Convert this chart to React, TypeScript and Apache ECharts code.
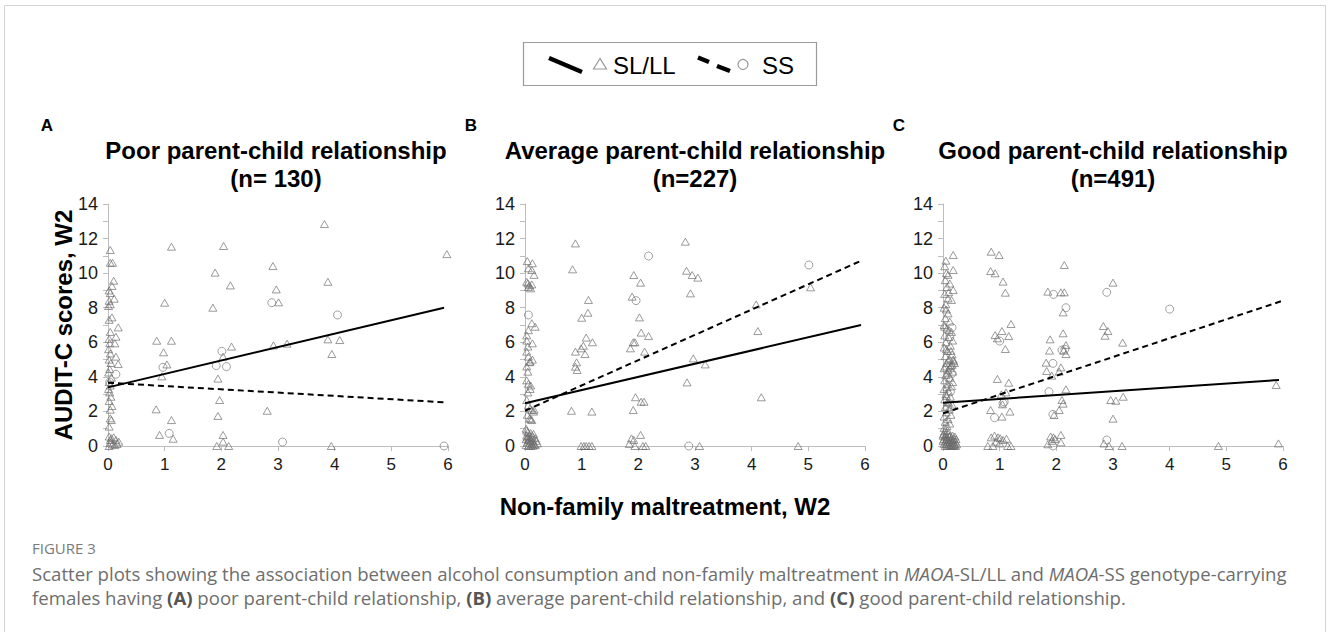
import React, { useEffect, useRef } from "react";
import * as echarts from "echarts";

// ---------- data ----------
const panelLetters = ["A", "B", "C"];
const panelTitles = [
  "Poor parent-child relationship",
  "Average parent-child relationship",
  "Good parent-child relationship",
];
const panelCounts = ["(n= 130)", "(n=227)", "(n=491)"];
const xTicks = [0, 1, 2, 3, 4, 5, 6];
const yTicks = [0, 2, 4, 6, 8, 10, 12, 14];

// Panel A
const slllA: number[][] = [
  [1.12, 11.53], [2.04, 11.57], [3.82, 12.84], [5.98, 11.1], [1.89, 10.03], [2.91, 10.41], [2.16, 9.29],
  [2.97, 9.06], [3.88, 9.5], [1.0, 8.29], [3.01, 8.31], [1.85, 8.0], [0.86, 6.09], [1.12, 6.09], [0.98, 5.42],
  [1.04, 4.72], [0.95, 4.03], [2.18, 5.75], [2.92, 5.82], [3.16, 5.92], [3.88, 6.17], [4.09, 6.13], [3.95, 5.32],
  [2.03, 5.17], [1.94, 3.9], [1.97, 2.66], [1.94, 1.74], [0.85, 2.12], [2.81, 2.04], [1.12, 1.5], [0.91, 0.64],
  [1.15, 0.42], [2.03, 0.64], [2.03, 0.25], [1.92, 0.0], [2.13, 0], [3.94, 0],
  [0.04, 11.34], [0.04, 10.6], [0.08, 10.6], [0.1, 9.56], [0.07, 9.26], [0.02, 9.0], [0.11, 8.52], [0.04, 8.85],
  [0.02, 8.4], [0.04, 8.2], [0.01, 8.1], [0.07, 7.44], [0.02, 7.3], [0.18, 6.86], [0.14, 6.32], [0.04, 6.6],
  [0.02, 6.2], [0.03, 5.95], [0.12, 5.94], [0.01, 5.6], [0.04, 5.35], [0.14, 5.17], [0.18, 4.74], [0.02, 5.0],
  [0.05, 4.8], [0.03, 4.45], [0.01, 4.25], [0.06, 3.95], [0.02, 3.7], [0.04, 3.5], [0.01, 3.3], [0.03, 3.1],
  [0.05, 2.85], [0.02, 2.6], [0.07, 2.31], [0.04, 2.1], [0.04, 1.6], [0.06, 1.5], [0.02, 1.12], [0.02, 0.55],
  [0.06, 0.45], [0.1, 0.5], [0.14, 0.35], [0.19, 0.25], [0.04, 0.2], [0.08, 0.1], [0.02, 0.0], [0.12, 0.05],
  [0.16, 0.12], [0.04, 0.35],
];
const ssA: number[][] = [
  [2.89, 8.29], [4.05, 7.58], [2.01, 5.48], [0.97, 4.55], [1.91, 4.65], [2.09, 4.59], [1.08, 0.73], [3.08, 0.23],
  [5.93, 0], [0.14, 4.15], [0.03, 3.7],
];
const fitSlllA = [[0, 3.39], [5.93, 8.0]];
const fitSsA = [[0, 3.66], [5.93, 2.53]];

// Panel B
const slllB: number[][] = [
  [0.89, 11.72], [0.84, 10.22], [2.83, 11.82], [2.85, 10.14], [2.95, 9.89], [3.05, 9.74], [2.92, 8.83], [1.92, 9.89],
  [2.04, 9.45], [1.89, 8.64], [1.12, 8.45], [1.11, 7.71], [1.0, 7.42], [2.02, 7.44], [2.05, 6.56], [2.18, 6.36],
  [1.08, 6.27], [1.19, 6.0], [1.03, 5.8], [0.99, 5.65], [1.06, 5.32], [0.89, 5.46], [0.91, 4.84], [0.89, 4.59],
  [0.92, 4.4], [1.91, 6.0], [1.94, 6.0], [1.86, 5.65], [2.11, 5.46], [4.08, 8.19], [4.11, 6.65], [5.04, 9.18],
  [2.97, 5.07], [3.18, 4.72], [2.86, 3.68], [4.17, 2.82], [1.95, 2.82], [2.05, 2.56], [2.1, 2.56], [1.91, 2.08],
  [0.82, 2.04], [1.18, 1.99], [2.04, 0.64], [1.88, 0.44], [1.92, 0.35], [1.84, 0.12], [1.94, 0.0], [0.99, 0],
  [1.04, 0], [1.08, 0], [1.13, 0], [1.18, 0], [2.08, 0], [2.13, 0], [3.08, 0], [4.82, 0],
  [0.04, 10.7], [0.13, 10.57], [0.06, 10.28], [0.12, 10.18], [0.16, 9.9], [0.05, 9.41], [0.08, 9.3], [0.1, 9.12],
  [0.06, 9.2], [0.03, 9.5], [0.12, 9.35], [0.12, 7.1], [0.18, 6.9], [0.06, 6.7], [0.03, 6.4], [0.03, 6.1],
  [0.13, 5.94], [0.05, 5.75], [0.03, 5.46], [0.06, 5.17], [0.09, 4.88], [0.13, 5.0], [0.03, 4.6], [0.05, 4.3],
  [0.08, 4.85], [0.03, 3.8], [0.06, 3.6], [0.1, 3.5], [0.09, 3.3], [0.05, 3.1], [0.03, 2.66], [0.06, 2.37],
  [0.09, 2.18], [0.12, 2.08], [0.15, 1.99], [0.16, 2.1], [0.04, 1.8], [0.08, 1.6], [0.12, 1.5], [0.1, 1.55],
  [0.02, 1.0], [0.05, 0.8], [0.1, 0.75], [0.15, 0.7], [0.03, 0.6], [0.07, 0.55], [0.12, 0.5], [0.18, 0.45],
  [0.02, 0.4], [0.06, 0.35], [0.1, 0.3], [0.14, 0.25], [0.2, 0.3], [0.04, 0.2], [0.08, 0.15], [0.12, 0.1],
  [0.16, 0.1], [0.02, 0.05], [0.06, 0.0], [0.1, 0.0], [0.14, 0.02], [0.18, 0.05], [0.22, 0.15], [0.04, 0.5],
  [0.09, 0.45], [0.13, 0.6], [0.03, 0.9],
];
const ssB: number[][] = [[2.18, 10.99], [5.01, 10.47], [1.96, 8.41], [2.89, 0], [0.06, 7.58]];
const fitSlllB = [[0, 2.47], [5.93, 7.0]];
const fitSsB = [[0, 2.04], [5.96, 10.76]];

// Panel C
const slllC: number[][] = [
  [0.85, 11.24], [0.99, 11.05], [0.84, 10.12], [0.92, 9.99], [1.06, 9.51], [1.1, 8.87], [2.14, 10.47], [3.0, 9.45],
  [1.85, 8.93], [2.08, 8.89], [2.14, 8.89], [2.12, 7.73], [1.2, 7.06], [1.04, 6.65], [1.16, 6.36], [0.92, 6.42],
  [0.96, 6.23], [1.1, 5.61], [2.83, 6.94], [2.91, 6.65], [2.86, 6.38], [3.17, 5.98], [1.89, 6.17], [2.12, 6.52],
  [2.17, 5.84], [2.13, 5.52], [2.17, 5.32], [1.88, 5.52], [1.82, 4.82], [1.83, 4.34], [1.92, 4.07], [2.08, 4.55],
  [2.05, 4.3], [0.96, 3.88], [1.16, 3.66], [1.11, 3.1], [1.03, 2.99], [1.05, 2.41], [0.84, 2.08], [1.18, 1.99],
  [1.04, 1.7], [2.17, 3.28], [2.1, 2.66], [2.05, 2.08], [2.12, 2.45], [1.96, 1.79], [3.18, 2.85], [2.96, 2.66],
  [3.05, 2.62], [3.0, 1.58], [5.88, 3.53], [5.92, 0.15], [4.86, 0], [3.16, 0], [2.84, 0.15], [2.93, 0],
  [2.08, 0.64], [2.08, 0.21], [1.95, 0.5], [1.98, 0.4], [1.92, 0.3], [0.85, 0.5], [0.91, 0.6], [0.97, 0.5],
  [1.01, 0.45], [1.06, 0.35], [1.12, 0.42], [0.94, 0.25], [1.0, 0.15], [0.88, 0], [0.79, 0], [1.2, 0], [1.14, 0],
  [1.85, 0.1], [1.9, 0.55],
  [0.18, 11.05], [0.05, 10.72], [0.03, 10.4], [0.18, 10.18], [0.06, 10.0], [0.09, 9.9], [0.04, 9.6], [0.12, 9.4],
  [0.07, 9.2], [0.18, 9.02], [0.03, 8.8], [0.09, 8.54], [0.15, 8.45], [0.05, 8.2], [0.02, 8.0], [0.09, 7.67],
  [0.04, 7.4], [0.12, 7.2], [0.02, 7.0], [0.07, 6.8], [0.15, 6.6], [0.03, 6.4], [0.1, 6.3], [0.17, 6.1],
  [0.05, 6.0], [0.13, 5.8], [0.02, 5.7], [0.08, 5.5], [0.16, 5.3], [0.04, 5.2], [0.11, 5.05], [0.19, 4.9],
  [0.06, 4.8], [0.14, 4.65], [0.02, 4.5], [0.09, 4.4], [0.17, 4.3], [0.05, 4.1], [0.12, 3.95], [0.03, 3.8],
  [0.08, 3.6], [0.15, 3.45], [0.02, 3.3], [0.1, 3.15], [0.05, 3.0], [0.13, 2.85], [0.03, 2.7], [0.08, 2.55],
  [0.16, 2.4], [0.04, 2.25], [0.11, 2.1], [0.06, 1.95], [0.14, 1.8], [0.02, 1.7], [0.09, 1.55], [0.04, 1.4],
  [0.12, 1.3], [0.07, 1.15], [0.02, 1.05], [0.06, 5.6], [0.1, 4.95], [0.04, 4.6], [0.08, 4.2], [0.14, 5.5],
  [0.11, 6.7], [0.06, 7.9], [0.1, 8.9], [0.03, 6.9], [0.07, 3.4], [0.1, 2.5], [0.06, 2.9], [0.12, 4.5],
  [0.16, 4.7], [0.18, 5.0], [0.2, 4.8], [0.17, 3.7],
  [0.01, 0.7], [0.05, 0.65], [0.09, 0.7], [0.13, 0.62], [0.17, 0.6], [0.21, 0.55], [0.03, 0.55], [0.07, 0.5],
  [0.11, 0.52], [0.15, 0.45], [0.19, 0.42], [0.23, 0.4], [0.02, 0.4], [0.06, 0.38], [0.1, 0.35], [0.14, 0.32],
  [0.18, 0.3], [0.22, 0.25], [0.04, 0.25], [0.08, 0.22], [0.12, 0.2], [0.16, 0.18], [0.2, 0.12], [0.24, 0.1],
  [0.02, 0.12], [0.06, 0.1], [0.1, 0.08], [0.14, 0.05], [0.18, 0.02], [0.22, 0.0], [0.04, 0.0], [0.08, 0.0],
  [0.12, 0.0], [0.16, 0.0], [0.2, 0.05], [0.0, 0.3], [0.0, 0.6], [0.03, 0.85], [0.08, 0.9],
];
const ssC: number[][] = [
  [1.95, 8.77], [2.17, 8.0], [2.89, 8.89], [4.0, 7.92], [1.0, 6.07], [2.1, 5.55], [1.94, 4.78], [1.87, 3.14],
  [1.06, 2.47], [0.91, 1.64], [1.94, 1.83], [2.89, 0.35], [1.94, 0], [0.16, 6.85], [0.12, 6.3], [0.14, 4.7],
  [0.1, 3.9], [0.13, 3.14], [0.16, 4.2], [0.08, 2.2], [1.08, 2.55], [2.15, 5.6],
];
const fitSlllC = [[0, 2.5], [5.93, 3.82]];
const fitSsC = [[0, 1.89], [5.98, 8.39]];

const slllData = [slllA, slllB, slllC];
const ssData = [ssA, ssB, ssC];
const fitSlll = [fitSlllA, fitSlllB, fitSlllC];
const fitSs = [fitSsA, fitSsB, fitSsC];

// ---------- layout ----------
const gridLefts = [108, 525, 943];
const GRID_W = 340;
const GRID_TOP = 204;
const GRID_H = 242;
const FONT = '"Liberation Sans", Arial, Helvetica, sans-serif';
const CAP_FONT = '"Open Sans", "Noto Sans", sans-serif';
const AXIS_GRAY = "#bdbdbd";
const CAP_SIZE = 18.6;

export default function App() {
  const ref = useRef<HTMLDivElement>(null);
  useEffect(() => {
    if (!ref.current) return;
    const chart = echarts.init(ref.current, undefined, { renderer: "svg" });

    const grids = gridLefts.map((l) => ({ left: l, top: GRID_TOP, width: GRID_W, height: GRID_H }));
    const xAxes = gridLefts.map((_, i) => ({
      type: "value",
      gridIndex: i,
      min: xTicks[0],
      max: xTicks[xTicks.length - 1],
      interval: 1,
      axisLine: { show: true, lineStyle: { color: AXIS_GRAY, width: 1 } },
      axisTick: { show: true, length: 5, lineStyle: { color: AXIS_GRAY } },
      axisLabel: { color: "#1a1a1a", fontSize: 17, fontFamily: FONT, margin: 10 },
      splitLine: { show: false },
    }));
    const yAxes = gridLefts.map((_, i) => ({
      type: "value",
      gridIndex: i,
      min: yTicks[0],
      max: yTicks[yTicks.length - 1],
      interval: 2,
      axisLine: { show: true, lineStyle: { color: AXIS_GRAY, width: 1 } },
      axisTick: { show: true, length: 5, lineStyle: { color: AXIS_GRAY } },
      minorTick: { show: true, splitNumber: 2, length: 5, lineStyle: { color: AXIS_GRAY } },
      axisLabel: { color: "#1a1a1a", fontSize: 18, fontFamily: FONT, margin: 10 },
      splitLine: { show: false },
      minorSplitLine: { show: false },
    }));

    const series: any[] = [];
    for (let i = 0; i < 3; i++) {
      series.push({
        type: "scatter",
        name: "SL/LL",
        xAxisIndex: i,
        yAxisIndex: i,
        data: slllData[i],
        symbol: "triangle",
        symbolSize: [8, 7],
        clip: false,
        itemStyle: { color: "rgba(0,0,0,0)", borderColor: "#6a6a6a", borderWidth: 0.85 },
        silent: true,
        z: 2,
      });
      series.push({
        type: "scatter",
        name: "SS",
        xAxisIndex: i,
        yAxisIndex: i,
        data: ssData[i],
        symbol: "circle",
        symbolSize: 8,
        clip: false,
        itemStyle: { color: "rgba(0,0,0,0)", borderColor: "#7c7c7c", borderWidth: 0.9 },
        silent: true,
        z: 2,
      });
      series.push({
        type: "line",
        xAxisIndex: i,
        yAxisIndex: i,
        data: fitSlll[i],
        symbol: "none",
        lineStyle: { color: "#000", width: 2 },
        silent: true,
        z: 5,
      });
      series.push({
        type: "line",
        xAxisIndex: i,
        yAxisIndex: i,
        data: fitSs[i],
        symbol: "none",
        lineStyle: { color: "#000", width: 2, type: [6, 4] },
        silent: true,
        z: 5,
      });
    }

    const txt = (x: number, y: number, text: string, font: string, align = "center", extra: any = {}) => ({
      type: "text",
      x,
      y,
      silent: true,
      ...extra,
      style: {
        text,
        font,
        fill: "#000",
        textAlign: align,
        align,
        textVerticalAlign: "middle",
        verticalAlign: "middle",
        ...(extra.style || {}),
      },
    });

    const capStyle = {
      fontSize: CAP_SIZE,
      fontFamily: CAP_FONT,
      fill: "#6e6e6e",
      textAlign: "left",
      align: "left",
      textVerticalAlign: "middle",
      verticalAlign: "middle",
    };

    const graphic: any[] = [
      {
        type: "rect",
        silent: true,
        shape: { x: 4.5, y: 5.5, width: 1321, height: 640 },
        style: { fill: "none", stroke: "#d4d4d4", lineWidth: 1 },
      },
      // legend
      {
        type: "rect",
        silent: true,
        shape: { x: 523.5, y: 42.5, width: 293, height: 43 },
        style: { fill: "#fff", stroke: "#9a9a9a", lineWidth: 1.2 },
      },
      { type: "line", silent: true, shape: { x1: 549, y1: 58, x2: 582, y2: 72 }, style: { stroke: "#000", lineWidth: 4.5 } },
      {
        type: "polygon",
        silent: true,
        shape: { points: [[600, 58.5], [593.5, 69], [606.5, 69]] },
        style: { fill: "none", stroke: "#9a9a9a", lineWidth: 1.2 },
      },
      txt(613, 65, "SL/LL", `24px ${FONT}`, "left"),
      { type: "line", silent: true, shape: { x1: 698, y1: 57.5, x2: 709, y2: 62 }, style: { stroke: "#000", lineWidth: 4.5 } },
      { type: "line", silent: true, shape: { x1: 717, y1: 66, x2: 730, y2: 71 }, style: { stroke: "#000", lineWidth: 4.5 } },
      {
        type: "circle",
        silent: true,
        shape: { cx: 743, cy: 64.5, r: 5 },
        style: { fill: "none", stroke: "#9a9a9a", lineWidth: 1.2 },
      },
      txt(762, 65, "SS", `24px ${FONT}`, "left"),
      // axis titles
      txt(63, 325, "AUDIT-C scores, W2", `bold 24px ${FONT}`, "center", { rotation: Math.PI / 2 }),
      txt(665, 506, "Non-family maltreatment, W2", `bold 24px ${FONT}`, "center"),
      // caption
      {
        type: "text",
        x: 32,
        y: 548,
        silent: true,
        style: { ...capStyle, text: "FIGURE 3", fontSize: 15, fill: "#7a7a7a" },
      },
      {
        type: "text",
        x: 32,
        y: 573,
        silent: true,
        style: {
          ...capStyle,
          text: "Scatter plots showing the association between alcohol consumption and non-family maltreatment in {i|MAOA}-SL/LL and {i|MAOA}-SS genotype-carrying",
          rich: { i: { fontStyle: "italic", fontSize: CAP_SIZE, fontFamily: CAP_FONT, fill: "#6e6e6e" } },
        },
      },
      {
        type: "text",
        x: 32,
        y: 597,
        silent: true,
        style: {
          ...capStyle,
          text: "females having {b|(A)} poor parent-child relationship, {b|(B)} average parent-child relationship, and {b|(C)} good parent-child relationship.",
          rich: { b: { fontWeight: "bold", fontSize: CAP_SIZE, fontFamily: CAP_FONT, fill: "#555" } },
        },
      },
    ];

    const letterX = [47, 471, 899];
    for (let i = 0; i < 3; i++) {
      const cx = gridLefts[i] + GRID_W / 2;
      graphic.push(txt(letterX[i], 125, panelLetters[i], `bold 17px ${FONT}`, "center"));
      graphic.push(txt(cx + (i === 0 ? -2 : 0), 150, panelTitles[i], `bold 24px ${FONT}`, "center"));
      graphic.push(txt(cx + (i === 0 ? -2 : 0), 178, panelCounts[i], `bold 24px ${FONT}`, "center"));
    }

    chart.setOption({
      animation: false,
      backgroundColor: "#fff",
      grid: grids,
      xAxis: xAxes,
      yAxis: yAxes,
      series,
      graphic,
    });
    return () => chart.dispose();
  }, []);

  return (
    <div
      ref={ref}
      style={{ position: "absolute", left: 0, top: 0, width: 1328, height: 632, background: "#fff" }}
    />
  );
}
